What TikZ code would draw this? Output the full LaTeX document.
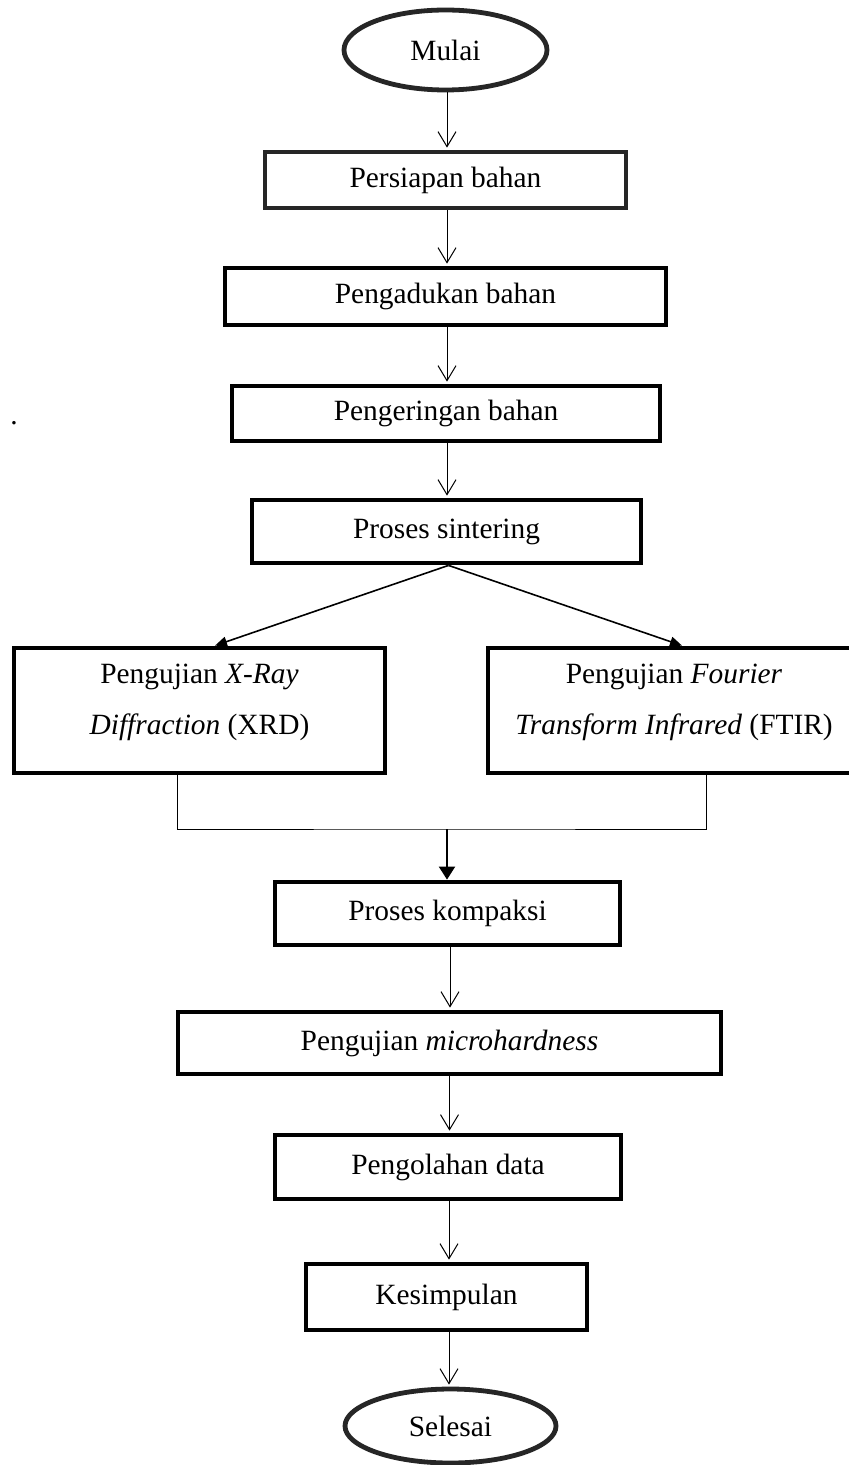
\documentclass[tikz,border=0pt]{standalone}
\usepackage{fontspec}
\setmainfont{Liberation Serif}
\usetikzlibrary{shapes.geometric,arrows.meta}
\newcommand\flowfont{\fontsize{14.7pt}{25.5pt}\selectfont}
\begin{document}
\begin{tikzpicture}[x=0.5pt,y=-0.5pt,
  box/.style={draw=black, line width=2.4pt, rectangle, inner sep=0pt, font=\flowfont},
  ovalbox/.style={draw=black!85, ellipse, line width=2.4pt, inner sep=0pt, font=\flowfont},
  plain/.style={inner sep=0pt, font=\flowfont, align=center},
  flow/.style={line width=0.5pt, -{Straight Barb[length=7.5pt,width=9pt]}, shorten >=1pt},
  branch/.style={line width=0.8pt, -{Triangle[length=6pt,width=5pt]}},
  merge/.style={line width=0.5pt},
  mainarrow/.style={line width=1pt, -{Triangle[length=6.5pt,width=8pt]}}]
\useasboundingbox (0,0) rectangle (849,1465);
\clip (0,0) rectangle (849,1465);
\fill[white] (0,0) rectangle (849,1465);

\node[ovalbox, minimum width=101.5pt, minimum height=40pt] (mulai) at (445.5,50) {Mulai};
\node[box, draw=black!85, minimum width=180.5pt, minimum height=28pt] (persiapan) at (445.5,180) {Persiapan bahan};
\node[box, minimum width=220.5pt, minimum height=28.5pt] (pengadukan) at (445.5,296.5) {Pengadukan bahan};
\node[box, minimum width=214pt, minimum height=27.5pt] (pengeringan) at (446,413.5) {Pengeringan bahan};
\node[box, minimum width=194.5pt, minimum height=31.5pt] (sintering) at (446.5,531.5) {Proses sintering};
\node[box, minimum width=185.5pt, minimum height=62.5pt] (xrd) at (199.5,710.5) {};
\node[plain] (xrdtext) at ([yshift=4pt]xrd.center) {Pengujian \textit{X-Ray}\\\textit{Diffraction} (XRD)};
\node[box, minimum width=186pt, minimum height=62.5pt] (ftir) at (674,710.5) {};
\node[plain] (ftirtext) at ([yshift=4pt]ftir.center) {Pengujian \textit{Fourier}\\\textit{Transform Infrared} (FTIR)};
\node[box, minimum width=172.5pt, minimum height=31.5pt] (kompaksi) at (447.5,913.5) {Proses kompaksi};
\node[box, minimum width=271.5pt, minimum height=31pt] (micro) at (449.5,1043) {Pengujian \textit{microhardness}};
\node[box, minimum width=173pt, minimum height=32pt] (pengolahan) at (448,1167) {Pengolahan data};
\node[box, minimum width=140.5pt, minimum height=33pt] (kesimpulan) at (446.5,1297) {Kesimpulan};
\node[ovalbox, minimum width=105.5pt, minimum height=37pt] (selesai) at (450.5,1426) {Selesai};
\node[plain, anchor=base] (dot) at (14,424) {.};

\draw[flow] ([xshift=0.75pt]mulai.south) -- ([xshift=0.75pt]mulai.south |- persiapan.north);
\draw[flow] ([xshift=0.75pt]persiapan.south) -- ([xshift=0.75pt]persiapan.south |- pengadukan.north);
\draw[flow] ([xshift=0.75pt]pengadukan.south) -- ([xshift=0.75pt]pengadukan.south |- pengeringan.north);
\draw[flow] ([xshift=0.5pt]pengeringan.south) -- ([xshift=0.5pt]pengeringan.south |- sintering.north);

\draw[branch] ([xshift=1pt]sintering.south) -- ([xshift=7.75pt]xrd.north);
\draw[branch] ([xshift=1pt]sintering.south) -- ([xshift=4pt]ftir.north);

\coordinate (join) at (447,829);
\draw[merge] ([xshift=-11.25pt]xrd.south) |- (join) -| ([xshift=16pt]ftir.south);
\draw[mainarrow] (join) -- (join |- kompaksi.north);

\draw[flow] ([xshift=1.25pt]kompaksi.south) -- ([xshift=1.25pt]kompaksi.south |- micro.north);
\draw[flow] (micro.south) -- (micro.south |- pengolahan.north);
\draw[flow] ([xshift=0.5pt]pengolahan.south) -- ([xshift=0.5pt]pengolahan.south |- kesimpulan.north);
\draw[flow] ([xshift=1.25pt]kesimpulan.south) -- ([xshift=1.25pt]kesimpulan.south |- selesai.north);
\end{tikzpicture}
\end{document}
